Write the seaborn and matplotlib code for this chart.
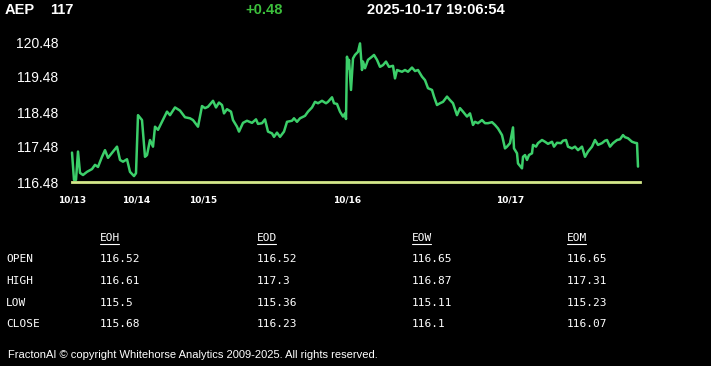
import numpy as np
import pandas as pd
import seaborn as sns
import matplotlib.pyplot as plt
from matplotlib.lines import Line2D

# price path, bar number within the 5 day window
bars = [0, 2, 4, 6, 8, 11, 15, 20, 23, 26, 30, 33, 36, 40, 45, 48, 51, 55, 58, 62,
        64, 66, 70, 73, 75, 78, 81, 83, 86, 90, 95, 98, 103, 108, 113, 118, 121, 126, 130, 133,
        136, 141, 144, 147, 150, 152, 155, 159, 161, 165, 167, 171, 175, 180, 184, 186, 190, 193, 196, 200,
        202, 205, 208, 212, 215, 220, 222, 225, 228, 233, 236, 240, 243, 246, 250, 254, 256, 260, 262, 265,
        268, 271, 273, 274, 275, 276, 277, 279, 281, 283, 286, 288, 290, 291, 293, 296, 300, 302, 305, 308,
        311, 314, 317, 321, 323, 325, 330, 333, 336, 340, 343, 346, 350, 353, 356, 360, 362, 365, 368, 371,
        375, 378, 381, 385, 388, 391, 395, 398, 401, 403, 406, 410, 413, 416, 420, 423, 426, 430, 433, 435,
        438, 441, 442, 445, 446, 450, 451, 453, 455, 457, 460, 461, 464, 466, 470, 473, 476, 480, 482, 485,
        489, 491, 494, 496, 500, 503, 506, 510, 513, 516, 520, 523, 526, 530, 533, 535, 538, 541, 545, 548,
        551, 553, 556, 560, 563, 565, 566]
prices = [117.32, 116.54, 116.54, 117.35, 116.74, 116.68, 116.77, 116.85, 116.97, 116.91,
          117.20, 117.39, 117.17, 117.31, 117.49, 117.11, 117.06, 117.13, 116.77, 116.65,
          116.73, 118.39, 118.25, 117.20, 117.25, 117.68, 117.49, 118.06, 117.97, 118.20,
          118.49, 118.39, 118.61, 118.52, 118.33, 118.30, 118.25, 118.06, 118.65, 118.59,
          118.63, 118.80, 118.61, 118.75, 118.68, 118.44, 118.56, 118.49, 118.25, 118.06,
          117.92, 118.17, 118.23, 118.17, 118.27, 118.14, 118.16, 118.27, 117.92, 117.87,
          117.77, 117.89, 117.77, 117.92, 118.20, 118.23, 118.30, 118.20, 118.30, 118.37,
          118.49, 118.61, 118.77, 118.73, 118.80, 118.73, 118.77, 118.90, 118.73, 118.71,
          118.49, 118.35, 118.44, 118.28, 120.06, 119.73, 119.97, 119.11, 120.01, 120.11,
          120.20, 120.44, 119.68, 119.92, 119.73, 119.97, 120.06, 120.11, 119.97, 119.77,
          119.82, 119.92, 119.77, 119.80, 119.44, 119.68, 119.63, 119.68, 119.63, 119.75,
          119.65, 119.68, 119.49, 119.39, 119.16, 119.11, 118.92, 118.68, 118.73, 118.77,
          118.92, 118.82, 118.73, 118.39, 118.59, 118.49, 118.35, 118.44, 118.11, 118.20,
          118.16, 118.25, 118.16, 118.16, 118.19, 118.11, 118.01, 117.82, 117.44, 117.49,
          117.59, 118.04, 117.44, 117.30, 117.01, 116.87, 117.20, 117.25, 117.11, 117.25,
          117.30, 117.54, 117.49, 117.59, 117.68, 117.63, 117.57, 117.63, 117.49, 117.60,
          117.59, 117.66, 117.68, 117.49, 117.44, 117.49, 117.39, 117.49, 117.20, 117.35,
          117.49, 117.68, 117.54, 117.59, 117.66, 117.68, 117.49, 117.59, 117.68, 117.70,
          117.82, 117.76, 117.73, 117.63, 117.60, 117.59, 116.92]

day_bars = [0, 64, 131, 275, 438]
day_labels = ["10/13", "10/14", "10/15", "10/16", "10/17"]
y_ticks = [116.48, 117.48, 118.48, 119.48, 120.48]
n_bars = 568

symbol = "AEP"
last = "117"
change = "+0.48"
stamp = "2025-10-17 19:06:54"

row_names = ["OPEN", "HIGH", "LOW", "CLOSE"]
col_names = ["EOH", "EOD", "EOW", "EOM"]
eoh = ["116.52", "116.61", "115.5", "115.68"]
eod = ["116.52", "117.3", "115.36", "116.23"]
eow = ["116.65", "116.87", "115.11", "116.1"]
eom = ["116.65", "117.31", "115.23", "116.07"]

df = pd.DataFrame({"bar": bars, "price": prices})

sns.set_style("dark", {"axes.facecolor": "black", "figure.facecolor": "black"})
plt.rcParams["font.family"] = ["Liberation Sans", "DejaVu Sans"]

W, H = 711, 366
fig = plt.figure(figsize=(W / 100, H / 100), dpi=100, facecolor="black")
ax = fig.add_axes([72 / W, 1 - 182 / H, 568 / W, 140 / H])
ax.set_facecolor("black")

sns.lineplot(data=df, x="bar", y="price", ax=ax, color="#3ccf6a", linewidth=1.8,
             clip_on=False)

ax.set_xlim(0, n_bars)
ax.set_ylim(y_ticks[0], y_ticks[-1])
ax.set_xticks(day_bars)
ax.set_xticklabels(day_labels)
ax.set_yticks(y_ticks)
ax.set_yticklabels([f"{v:.2f}" for v in y_ticks])
ax.set_xlabel("")
ax.set_ylabel("")
ax.grid(False)
for side in ["top", "right", "left"]:
    ax.spines[side].set_visible(False)
ax.spines["bottom"].set_color("#d4e88a")
ax.spines["bottom"].set_linewidth(2)
ax.tick_params(axis="x", colors="white", length=5, width=1, pad=5, labelsize=7)
ax.tick_params(axis="y", colors="white", length=0, pad=10, labelsize=10)
for lab in ax.get_xticklabels():
    lab.set_fontweight("bold")
    lab.set_fontfamily(["DejaVu Sans"])
    lab.set_fontsize(6.5)

# header
fig.text(5 / W, 1 - 10 / H, symbol, color="white", fontsize=10.5, fontweight="bold", va="center")
fig.text(50 / W, 1 - 10 / H, last, color="white", fontsize=10.5, fontweight="bold", va="center")
fig.text(245 / W, 1 - 10 / H, change, color="#3cbf3c", fontsize=10.5, fontweight="bold", va="center")
fig.text(367 / W, 1 - 10 / H, stamp, color="white", fontsize=10.5, fontweight="bold", va="center")

# OHLC table
mono = ["DejaVu Sans Mono"]
col_x = [100, 257, 412, 567]
row_y = [259, 281, 303, 324]
cols = [eoh, eod, eow, eom]
for cx, name, vals in zip(col_x, col_names, cols):
    fig.text(cx / W, 1 - 238 / H, name, color="white", fontsize=8, family=mono, va="center")
    fig.add_artist(Line2D([cx / W, (cx + 19) / W], [1 - 244 / H, 1 - 244 / H],
                          color="white", linewidth=0.8))
    for ry, v in zip(row_y, vals):
        fig.text(cx / W, 1 - ry / H, v, color="white", fontsize=8, family=mono, va="center")
for ry, name in zip(row_y, row_names):
    fig.text(6 / W, 1 - ry / H, name, color="white", fontsize=8, family=mono, va="center")

fig.text(8 / W, 1 - 355 / H,
         "FractonAI \u00a9 copyright Whitehorse Analytics 2009-2025. All rights reserved.",
         color="white", fontsize=8, va="center")

fig.savefig("out.png", dpi=100, facecolor="black")
